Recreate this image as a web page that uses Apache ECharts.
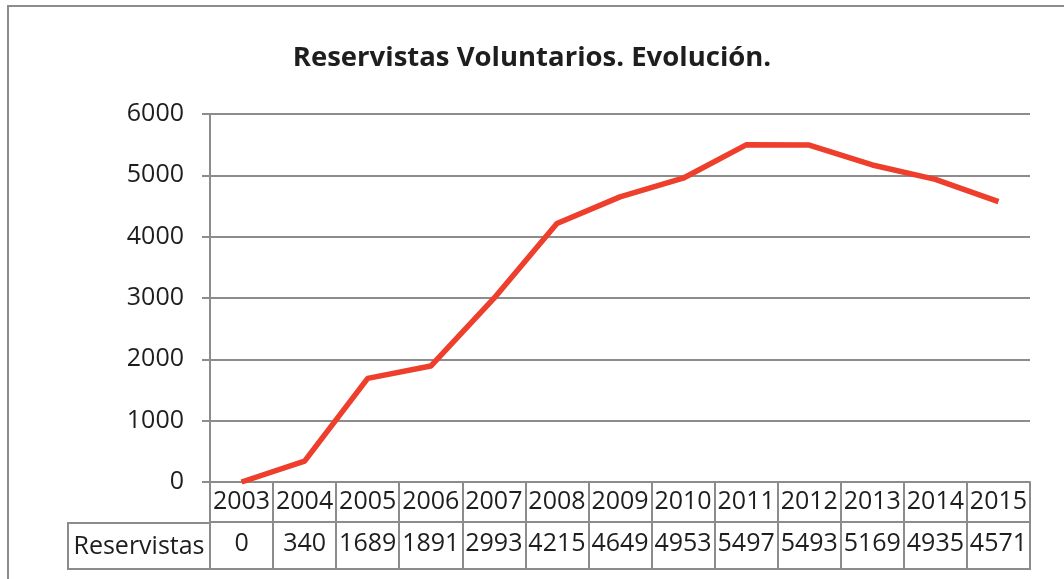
<!DOCTYPE html>
<html>
<head>
<meta charset="utf-8">
<script src="https://cdn.jsdelivr.net/npm/echarts@6/dist/echarts.min.js"></script>
<style>
html,body{margin:0;padding:0;background:#fff;}
#c{width:1064px;height:579px;}
</style>
</head>
<body>
<div id="c"></div>
<script>
const titleText = 'Reservistas Voluntarios. Evolución.';
const seriesName = 'Reservistas';
const years = ['2003','2004','2005','2006','2007','2008','2009','2010','2011','2012','2013','2014','2015'];
const values = [0, 340, 1689, 1891, 2993, 4215, 4649, 4953, 5497, 5493, 5169, 4935, 4571];
const yTicks = [0, 1000, 2000, 3000, 4000, 5000, 6000];

const gray = '#8c8c8c';
const txt = '#1e1e1e';
const font = '"Open Sans", "Liberation Sans", sans-serif';
const fs = 25;

const chart = echarts.init(document.getElementById('c'), null, {renderer: 'canvas'});
chart.setOption({
  animation: false,
  backgroundColor: '#fff',
  title: {
    text: titleText,
    left: 'center',
    top: 39,
    textStyle: {fontFamily: font, fontWeight: 'bold', fontSize: 27.5, color: txt}
  },
  grid: {left: 210, right: 34, top: 114, bottom: 97, containLabel: false},
  xAxis: [
    {
      type: 'category', data: years, boundaryGap: true, position: 'bottom',
      axisLine: {show: true, lineStyle: {color: gray, width: 2}},
      axisTick: {show: true, interval: 0, length: 40, lineStyle: {color: gray, width: 2}},
      axisLabel: {interval: 0, margin: 7, fontFamily: font, fontSize: fs, color: txt}
    },
    {
      type: 'category', data: years, boundaryGap: true, position: 'bottom', offset: 40,
      axisLine: {show: true, lineStyle: {color: gray, width: 2}},
      axisTick: {show: true, interval: 0, length: 47, lineStyle: {color: gray, width: 2}},
      axisLabel: {interval: 0, margin: 9, fontFamily: font, fontSize: fs, color: txt,
        formatter: (v, i) => String(values[i])}
    }
  ],
  yAxis: {
    type: 'value', min: yTicks[0], max: yTicks[yTicks.length - 1], interval: 1000,
    axisLine: {show: true, lineStyle: {color: gray, width: 2}},
    axisTick: {show: true, length: 8, lineStyle: {color: gray, width: 2}},
    axisLabel: {margin: 26, fontFamily: font, fontSize: fs, color: txt,
      padding: [6, 0, 0, 0], formatter: (v) => String(v)},
    splitLine: {show: true, lineStyle: {color: gray, width: 2}}
  },
  series: [{
    name: seriesName, type: 'line', data: values, xAxisIndex: 0,
    symbol: 'none', lineStyle: {color: '#ee3e2c', width: 5.5}, z: 5
  }],
  graphic: [
    {type: 'rect', shape: {x: 8, y: 6, width: 1200, height: 700},
     style: {fill: 'none', stroke: gray, lineWidth: 2}, silent: true},
    {type: 'polyline', shape: {points: [[210, 523], [68, 523], [68, 569], [1031, 569]]},
     style: {fill: 'none', stroke: gray, lineWidth: 2}, silent: true},
    {type: 'text', x: 139, y: 547,
     style: {text: seriesName, fontFamily: font, fontSize: fs, fill: txt, align: 'center', verticalAlign: 'middle'}}
  ]
});
</script>
</body>
</html>
